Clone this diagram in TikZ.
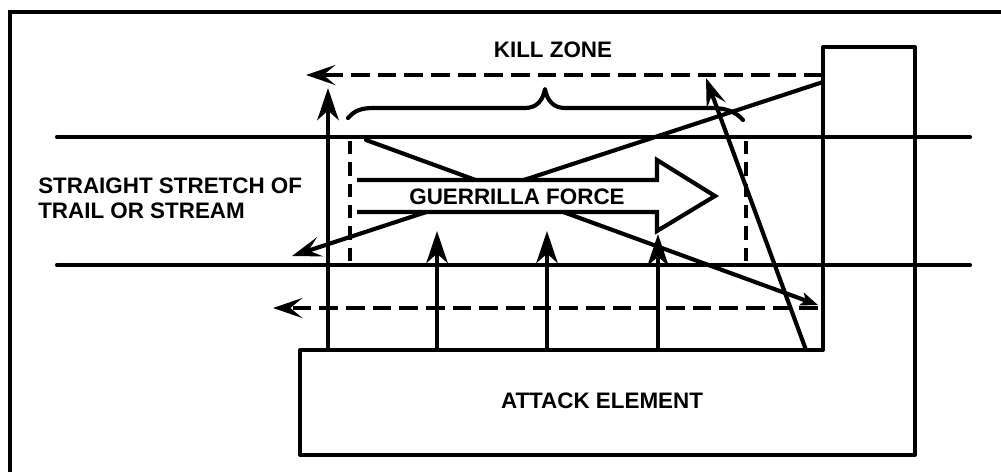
\documentclass[tikz,border=0pt]{standalone}
\usepackage{fontspec}
\setmainfont{Liberation Sans}
\usetikzlibrary{arrows.meta}
\begin{document}
\begin{tikzpicture}[x=0.75pt,y=-0.75pt,
  ln/.style={line width=3.1pt, line cap=round, line join=round},
  dashh/.style={line width=3.1pt, dash pattern=on 14pt off 6pt},
  dashv/.style={line width=2.9pt, dash pattern=on 10pt off 6pt},
  upar/.style={ln, -{Stealth[length=24pt,width=16pt,inset=7pt]}},
  lefttip/.style={-{Stealth[length=22pt,width=15pt,inset=9pt]}},
  smalltip/.style={-{Stealth[length=13pt,width=10pt,inset=3pt]}},
  lbl/.style={font=\fontsize{16.8}{19}\selectfont\bfseries, inner sep=0pt}]
\useasboundingbox (0,0) rectangle (1001,472);
\fill[white] (0,0) rectangle (1001,472);
% outer border
\coordinate (bl) at (10,472);
\coordinate (tl) at (10,12);
\coordinate (tr) at (1001,12);
\draw[line width=3.3pt] (bl) -- (tl) -- (tr);
% stream
\coordinate (s1a) at (57,137); \coordinate (s1b) at (970,137);
\coordinate (s2a) at (57,265); \coordinate (s2b) at (970,265);
\draw[ln] (s1a) -- (s1b);
\draw[ln] (s2a) -- (s2b);
% attack element outline
\coordinate (b1) at (300,455); \coordinate (b2) at (300,350);
\coordinate (b3) at (823,350); \coordinate (b4) at (823,47);
\coordinate (b5) at (915,47); \coordinate (b6) at (915,455);
\draw[ln] (b1) -- (b2) -- (b3) -- (b4) -- (b5) -- (b6) -- cycle;
% dashed arrows
\coordinate (kzR) at (823,75); \coordinate (kzL) at (306,75);
\draw[dashh, lefttip] (kzR) -- (kzL);
\coordinate (bdR) at (818,308); \coordinate (bdL) at (273,308);
\draw[dashh, lefttip] (bdR) -- (bdL);
\coordinate (dv1a) at (350,141); \coordinate (dv1b) at (350,263);
\coordinate (dv2a) at (746,141); \coordinate (dv2b) at (746,263);
\draw[dashv] (dv1a) -- (dv1b);
\draw[dashv] (dv2a) -- (dv2b);
% fire lines
\coordinate (fa1) at (823,82); \coordinate (fa2) at (292,256);
\draw[ln, lefttip] (fa1) -- (fa2);
\coordinate (fb1) at (366,140); \coordinate (fb2) at (818,305);
\draw[ln, smalltip] (fb1) -- (fb2);
\coordinate (fc1) at (806,350); \coordinate (fc2) at (706,78);
\draw[ln, lefttip] (fc1) -- (fc2);
% vertical arrows
\coordinate (v1a) at (328,350); \coordinate (v1b) at (328,88);
\coordinate (v2a) at (437,350); \coordinate (v2b) at (437,231);
\coordinate (v3a) at (547,350); \coordinate (v3b) at (547,231);
\coordinate (v4a) at (658,350); \coordinate (v4b) at (658,234);
\draw[upar] (v1a) -- (v1b);
\draw[upar] (v2a) -- (v2b);
\draw[upar] (v3a) -- (v3b);
\draw[upar] (v4a) -- (v4b);
% brace
\coordinate (brL) at (348,118); \coordinate (brM) at (545,89); \coordinate (brR) at (743,120);
\draw[ln] (brL) .. controls (355,110) and (362,108) .. (374,108) -- (525,108)
  .. controls (537,108) and (543,100) .. (brM)
  .. controls (547,100) and (553,108) .. (565,108) -- (712,108)
  .. controls (726,108) and (736,112) .. (brR);
% guerrilla force arrow
\coordinate (g1) at (357,180); \coordinate (g2) at (657,180);
\coordinate (g3) at (657,160); \coordinate (g4) at (715,196);
\coordinate (g5) at (657,231); \coordinate (g6) at (657,212);
\coordinate (g7) at (357,212);
\fill[white] (g1) -- (g2) -- (g3) -- (g4) -- (g5) -- (g6) -- (g7) -- cycle;
\draw[line width=3.1pt, line join=miter, line cap=butt] (g1) -- (g2) -- (g3) -- (g4) -- (g5) -- (g6) -- (g7);
% labels
\node[lbl, anchor=base] (kz) at (553,57) {KILL ZONE};
\node[lbl, anchor=base west] (st1) at (38,193) {STRAIGHT STRETCH OF};
\node[lbl, anchor=base west] (st2) at (38,218) {TRAIL OR STREAM};
\node[lbl, anchor=base] (gf) at (517,204) {GUERRILLA FORCE};
\node[lbl, anchor=base] (ae) at (602,408) {ATTACK ELEMENT};
\end{tikzpicture}
\end{document}
